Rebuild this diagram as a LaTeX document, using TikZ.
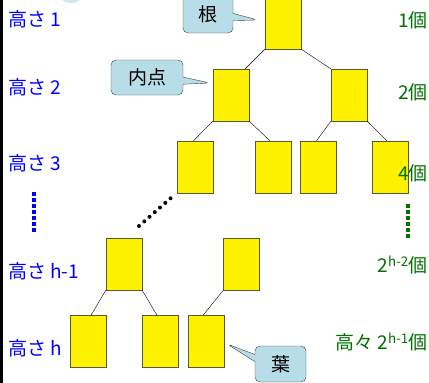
\documentclass[tikz,border=0pt]{standalone}
\usepackage{fontspec}
\setmainfont{Noto Sans CJK JP}
\usetikzlibrary{shapes.callouts}
\definecolor{boxline}{RGB}{90,90,40}
\definecolor{callfill}{RGB}{183,222,232}
\definecolor{cntgreen}{RGB}{0,112,0}

\begin{document}
\begin{tikzpicture}[x=1pt, y=-1pt,
    nd/.style={draw=boxline, fill=yellow, rectangle, minimum width=36pt, minimum height=52pt, inner sep=0pt},
    hlab/.style={text=blue, anchor=west, inner sep=0pt, font=\fontsize{19}{22}\selectfont},
    cnt/.style={text=cntgreen, anchor=east, inner sep=0pt, font=\fontsize{19}{22}\selectfont},
    note/.style={rectangle callout, draw=black!75, fill=callfill, rounded corners=5pt, inner sep=0pt, font=\fontsize{19}{22}\selectfont}]
  \useasboundingbox (0,0) rectangle (429,383);

  % frame bits
  \fill[callfill!70] (71,-12) circle (15);
  \draw[line width=3pt] (1.5,0) -- (1.5,383);

  % Nodes for the tree (boxes)
  \node[nd] (R) at (283, 23) {};
  \node[nd] (L) at (231, 95) {};
  \node[nd] (M) at (349, 95) {};
  \node[nd] (LL) at (195.5, 167) {};
  \node[nd] (LR) at (273, 167) {};
  \node[nd] (ML) at (318.5, 167) {};
  \node[nd] (MR) at (390, 167) {};
  \node[nd] (P) at (124, 264) {};
  \node[nd] (Q) at (241.5, 264) {};
  \node[nd] (PL) at (88, 341.5) {};
  \node[nd] (PR) at (160, 341.5) {};
  \node[nd] (QL) at (206, 341.5) {};

  % Edges
  \draw (R.south west) -- ([xshift=-4pt]L.north east);
  \draw (R.south east) -- (M.north west);
  \draw (L.south west) -- ([xshift=-2pt]LL.north);
  \draw (L.south east) -- ([xshift=-3pt]LR.north);
  \draw (M.south west) -- ([xshift=-2pt]ML.north);
  \draw (M.south east) -- ([xshift=-3pt]MR.north);
  \draw (P.south west) -- ([xshift=3pt]PL.north);
  \draw (P.south east) -- ([xshift=-3pt]PR.north);
  \draw (Q.south west) -- ([xshift=-3pt]QL.north);

  % Dotted gap
  \coordinate (d1) at (139, 226);
  \coordinate (d2) at (172, 197);
  \draw[line width=4pt, line cap=round, dash pattern=on 0pt off 7pt] (d1) -- (d2);

  % Heights
  \node[hlab] (h1) at (8, 19) {高さ 1};
  \node[hlab] (h2) at (8, 87) {高さ 2};
  \node[hlab] (h3) at (8, 163) {高さ 3};
  \node[hlab] (h4) at (8, 271) {高さ h-1};
  \node[hlab] (h5) at (8, 348) {高さ h};
  \coordinate (b1) at (34, 192);
  \coordinate (b2) at (34, 232);
  \draw[blue, line width=3.5pt, dash pattern=on 3.5pt off 2.5pt] (b1) -- (b2);

  % Counts
  \node[cnt] (c1) at (428, 20) {1個};
  \node[cnt] (c2) at (428, 92) {2個};
  \node[cnt] (c3) at (428, 173) {4個};
  \node[cnt] (c4) at (428, 265) {2\textsuperscript{h-2}個};
  \node[cnt] (c5) at (428, 342) {高々 2\textsuperscript{h-1}個};
  \coordinate (g1) at (408, 204);
  \coordinate (g2) at (408, 238);
  \draw[cntgreen, line width=3.5pt, dash pattern=on 3.5pt off 2.5pt] (g1) -- (g2);

  % Callouts
  \node[note, minimum width=50pt, minimum height=38pt, callout absolute pointer={(258,20)}] (root) at (208, 14) {根};
  \node[note, minimum width=72pt, minimum height=35pt, callout absolute pointer={(210,83)}] (inner) at (147, 77.5) {内点};
  \node[note, minimum width=51pt, minimum height=36pt, callout absolute pointer={(227,344)}] (leaf) at (280.5, 364) {葉};
\end{tikzpicture}
\end{document}
